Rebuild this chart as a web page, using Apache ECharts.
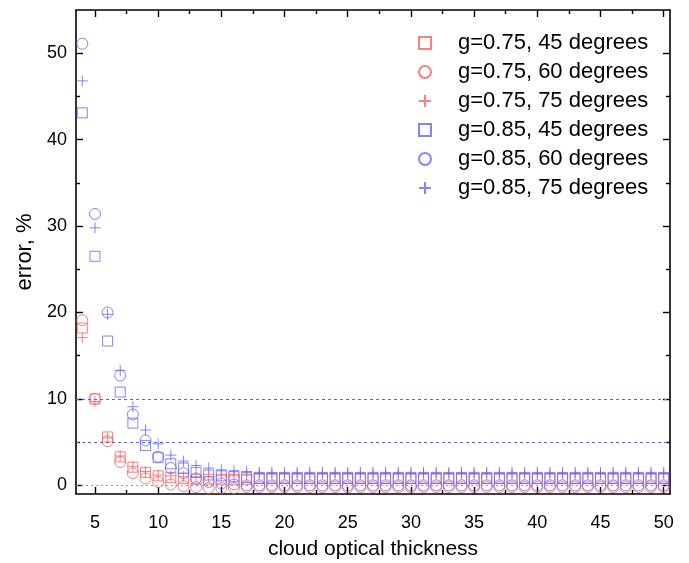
<!DOCTYPE html>
<html>
<head>
<meta charset="utf-8">
<script src="https://cdn.jsdelivr.net/npm/echarts@6/dist/echarts.min.js"></script>
<style>
  html, body { margin: 0; padding: 0; background: #fff; }
  #chart { width: 689px; height: 563px; }
</style>
</head>
<body>
<div id="chart"></div>
<script>
// Cloud optical thickness values (x) shared by every series
const tau = [4, 5, 6, 7, 8, 9, 10, 11, 12, 13, 14, 15, 16, 17, 18, 19, 20, 21, 22, 23, 24, 25, 26, 27,
  28, 29, 30, 31, 32, 33, 34, 35, 36, 37, 38, 39, 40, 41, 42, 43, 44, 45, 46, 47, 48, 49, 50];

// Retrieval error, % for g=0.75
const g75_45 = [18.2, 10.0, 5.6, 3.3, 2.1, 1.5, 1.1, 0.9, 0.8, 0.7, 0.7, 0.7, 0.7, 0.7,
  0.8, 0.8, 0.8, 0.8, 0.8, 0.8, 0.8, 0.8, 0.8, 0.8, 0.8, 0.8, 0.8, 0.8, 0.8, 0.8, 0.8, 0.8, 0.8,
  0.8, 0.8, 0.8, 0.8, 0.8, 0.8, 0.8, 0.8, 0.8, 0.8, 0.8, 0.8, 0.8, 0.8];
const g75_60 = [19.1, 10.0, 5.1, 2.7, 1.4, 0.8, 0.4, 0.1, -0.1, -0.2, -0.3, -0.3, -0.3, -0.2,
  -0.2, -0.2, -0.2, -0.2, -0.2, -0.2, -0.2, -0.2, -0.2, -0.2, -0.2, -0.2, -0.2, -0.2, -0.2, -0.2, -0.2, -0.2, -0.2,
  -0.2, -0.2, -0.2, -0.2, -0.2, -0.2, -0.2, -0.2, -0.2, -0.2, -0.2, -0.2, -0.2, -0.2];
const g75_75 = [17.1, 9.7, 5.5, 3.4, 2.2, 1.6, 1.2, 1.1, 1.0, 1.0, 1.0, 1.1, 1.1, 1.2,
  1.3, 1.3, 1.3, 1.3, 1.3, 1.3, 1.3, 1.3, 1.3, 1.3, 1.3, 1.3, 1.3, 1.3, 1.3, 1.3, 1.3, 1.3, 1.3,
  1.3, 1.3, 1.3, 1.3, 1.3, 1.3, 1.3, 1.3, 1.3, 1.3, 1.3, 1.3, 1.3, 1.3];

// Retrieval error, % for g=0.85
const g85_45 = [43.1, 26.5, 16.7, 10.8, 7.2, 4.6, 3.2, 2.5, 2.0, 1.5, 1.2, 1.1, 1.0, 0.9,
  0.8, 0.8, 0.8, 0.8, 0.8, 0.8, 0.8, 0.8, 0.8, 0.8, 0.8, 0.8, 0.8, 0.8, 0.8, 0.8, 0.8, 0.8, 0.8,
  0.8, 0.8, 0.8, 0.8, 0.8, 0.8, 0.8, 0.8, 0.8, 0.8, 0.8, 0.8, 0.8, 0.8];
const g85_60 = [51.1, 31.4, 20.0, 12.7, 8.2, 5.2, 3.3, 2.0, 1.4, 0.8, 0.4, 0.2, 0.1, 0.0,
  0.0, 0.0, 0.0, 0.0, 0.0, 0.0, 0.0, 0.0, 0.0, 0.0, 0.0, 0.0, 0.0, 0.0, 0.0, 0.0, 0.0, 0.0, 0.0,
  0.0, 0.0, 0.0, 0.0, 0.0, 0.0, 0.0, 0.0, 0.0, 0.0, 0.0, 0.0, 0.0, 0.0];
const g85_75 = [46.8, 29.8, 19.8, 13.3, 9.1, 6.4, 4.8, 3.5, 2.8, 2.3, 2.0, 1.8, 1.7, 1.6,
  1.5, 1.5, 1.5, 1.5, 1.5, 1.5, 1.5, 1.5, 1.5, 1.5, 1.5, 1.5, 1.5, 1.5, 1.5, 1.5, 1.5, 1.5, 1.5,
  1.5, 1.5, 1.5, 1.5, 1.5, 1.5, 1.5, 1.5, 1.5, 1.5, 1.5, 1.5, 1.5, 1.5];

// Tick positions
const xMajorTicks = [5, 10, 15, 20, 25, 30, 35, 40, 45, 50];
const xMinorTicks = [7.5, 12.5, 17.5, 22.5, 27.5, 32.5, 37.5, 42.5, 47.5];
const yMajorTicks = [0, 10, 20, 30, 40, 50];
const yMinorTicks = [5, 15, 25, 35, 45];

// Threshold guide lines (blue dashed) and the zero reference (grey dotted)
const guideLevels = [10, 5];
const zeroLevel = [0];

const seriesNames = [
  'g=0.75, 45 degrees', 'g=0.75, 60 degrees', 'g=0.75, 75 degrees',
  'g=0.85, 45 degrees', 'g=0.85, 60 degrees', 'g=0.85, 75 degrees'
];

const X_MIN = 3.5, X_MAX = 50.5;
const Y_MIN = -1, Y_MAX = 55;
const RED = '#ff5c5c';
const BLUE = '#6464ff';
const FONT = '"Liberation Sans", Arial, sans-serif';
const PLUS = 'path://M5,0L5,10M0,5L10,5';

function pairs(vals) { return tau.map((t, i) => [t, vals[i]]); }

function scatter(name, vals, color, symbol, size, extra) {
  return Object.assign({
    name: name,
    type: 'scatter',
    data: pairs(vals),
    symbol: symbol,
    symbolSize: size,
    symbolKeepAspect: true,
    itemStyle: { color: 'transparent', borderColor: color, borderWidth: 1 },
    emphasis: { disabled: true },
    silent: true,
    animation: false
  }, extra || {});
}

const frame = { show: true, onZero: false, lineStyle: { color: '#000', width: 1.6 } };
const tickStyle = { color: '#000', width: 1.4 };

function xAxisDef(position, ticks, len, lineShow, labelShow) {
  return {
    type: 'value', position: position, min: X_MIN, max: X_MAX,
    axisLine: lineShow ? frame : { show: false, onZero: false },
    axisTick: { show: true, inside: true, length: len, customValues: ticks, lineStyle: tickStyle },
    axisLabel: labelShow ? { show: true, customValues: xMajorTicks, color: '#000', fontSize: 18, fontFamily: FONT, margin: 20 } : { show: false },
    splitLine: { show: false }
  };
}
function yAxisDef(position, ticks, len, lineShow, labelShow) {
  return {
    type: 'value', position: position, min: Y_MIN, max: Y_MAX,
    axisLine: lineShow ? frame : { show: false, onZero: false },
    axisTick: { show: true, inside: true, length: len, customValues: ticks, lineStyle: tickStyle },
    axisLabel: labelShow ? { show: true, customValues: yMajorTicks, color: '#000', fontSize: 18, fontFamily: FONT, margin: 9 } : { show: false },
    splitLine: { show: false }
  };
}

const xMain = xAxisDef('bottom', xMajorTicks, 7, true, true);
xMain.name = 'cloud optical thickness';
xMain.nameLocation = 'middle';
xMain.nameGap = 45;
xMain.nameTextStyle = { color: '#000', fontSize: 21, fontFamily: FONT };

const yMain = yAxisDef('left', yMajorTicks, 7, true, true);
yMain.name = 'error, %';
yMain.nameLocation = 'middle';
yMain.nameGap = 37;
yMain.nameTextStyle = { color: '#000', fontSize: 22, fontFamily: FONT };

function levelLines(levels, color, dash) {
  return {
    symbol: ['none', 'none'],
    silent: true,
    animation: false,
    label: { show: false },
    lineStyle: { color: color, type: dash, width: 1, opacity: 1 },
    emphasis: { disabled: true },
    data: levels.map(v => ({ yAxis: v }))
  };
}

const option = {
  backgroundColor: '#fff',
  animation: false,
  grid: { left: 76, top: 10, right: 19, bottom: 69, outerBoundsMode: 'none' },
  xAxis: [
    xMain,
    xAxisDef('bottom', xMinorTicks, 4, false, false),
    xAxisDef('top', xMajorTicks, 7, true, false),
    xAxisDef('top', xMinorTicks, 4, false, false)
  ],
  yAxis: [
    yMain,
    yAxisDef('left', yMinorTicks, 4, false, false),
    yAxisDef('right', yMajorTicks, 7, true, false),
    yAxisDef('right', yMinorTicks, 4, false, false)
  ],
  legend: {
    data: seriesNames,
    orient: 'vertical',
    left: 413,
    top: 27,
    itemWidth: 12,
    itemHeight: 12,
    itemGap: 7,
    selectedMode: false,
    textStyle: { color: '#000', fontSize: 22, fontFamily: FONT, lineHeight: 22, padding: [0, 0, 0, 22] }
  },
  series: [
    scatter(seriesNames[0], g75_45, RED, 'rect', 10, { markLine: levelLines(zeroLevel, '#999999', [2, 3]) }),
    scatter(seriesNames[1], g75_60, RED, 'circle', 11, { markLine: levelLines(guideLevels, '#5a5aff', [3, 3]) }),
    scatter(seriesNames[2], g75_75, RED, PLUS, 11),
    scatter(seriesNames[3], g85_45, BLUE, 'rect', 10),
    scatter(seriesNames[4], g85_60, BLUE, 'circle', 11),
    scatter(seriesNames[5], g85_75, BLUE, PLUS, 11)
  ]
};

const chart = echarts.init(document.getElementById('chart'), null, { renderer: 'canvas' });
chart.setOption(option);
</script>
</body>
</html>
